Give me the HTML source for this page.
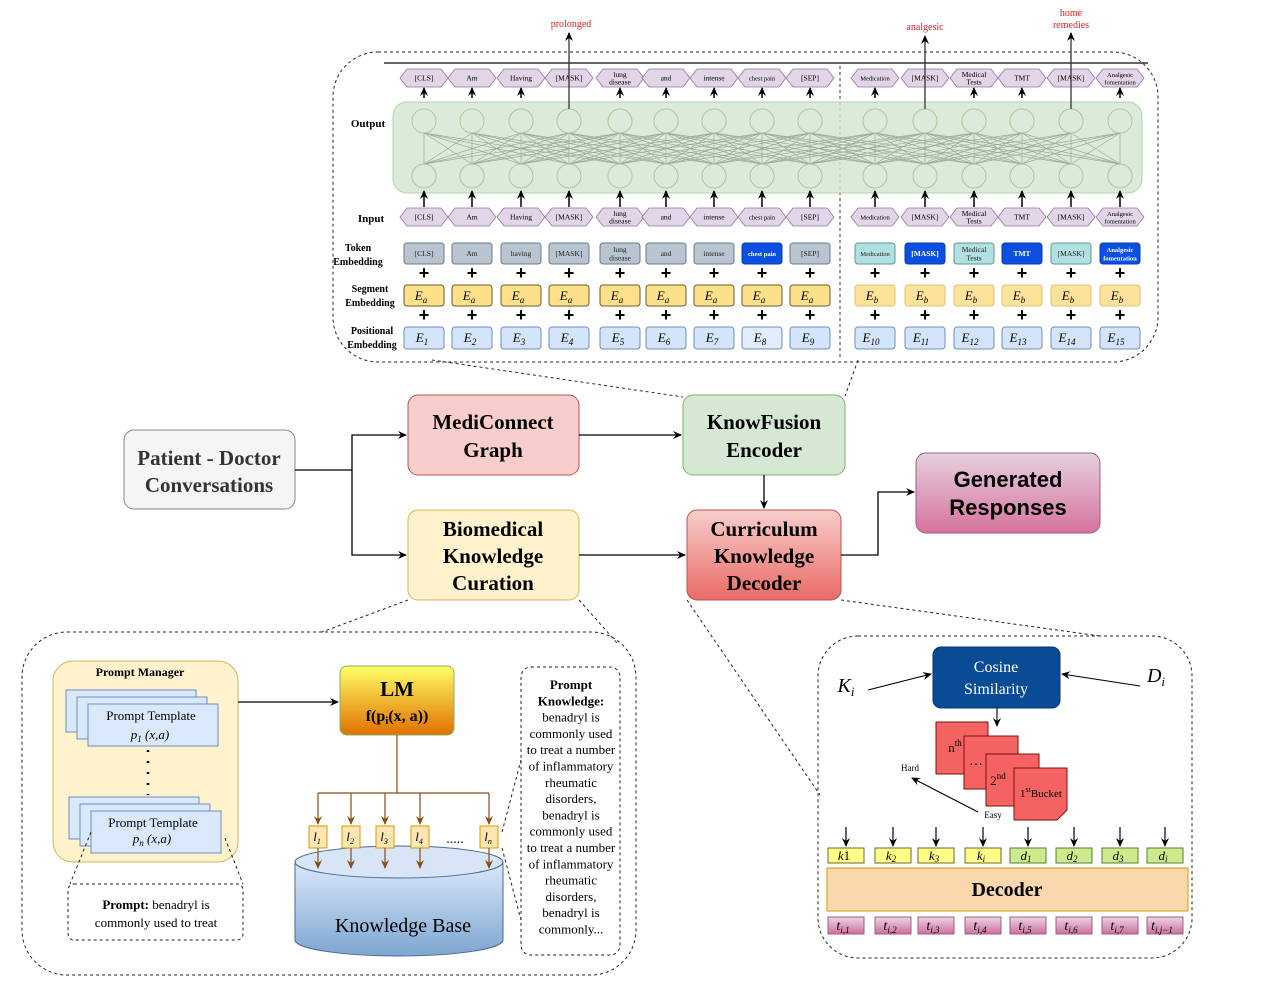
<!DOCTYPE html>
<html><head><meta charset="utf-8"><style>
html,body{margin:0;padding:0;background:#fff}
svg{display:block}
text{font-family:"Liberation Serif",serif}
</style></head><body>
<svg id="s" width="1280" height="985" viewBox="0 0 1280 985" xmlns="http://www.w3.org/2000/svg">
<defs>
<marker id="a" markerWidth="10" markerHeight="10" refX="8" refY="5" orient="auto" markerUnits="userSpaceOnUse"><path d="M0,1 L9,5 L0,9 L3,5 z" fill="#000"/></marker>
<marker id="ab" markerWidth="10" markerHeight="10" refX="8" refY="5" orient="auto" markerUnits="userSpaceOnUse"><path d="M0,1 L9,5 L0,9 L3,5 z" fill="#8b4a12"/></marker>
<linearGradient id="gRed" x1="0" y1="0" x2="0" y2="1"><stop offset="0" stop-color="#f8cecc"/><stop offset="1" stop-color="#ea6b66"/></linearGradient>
<linearGradient id="gPink" x1="0" y1="0" x2="0" y2="1"><stop offset="0" stop-color="#e6d0de"/><stop offset="1" stop-color="#d5739d"/></linearGradient>
<linearGradient id="gLM" x1="0" y1="0" x2="0" y2="1"><stop offset="0" stop-color="#ffff66"/><stop offset="1" stop-color="#e07000"/></linearGradient>
<linearGradient id="gKB" x1="0" y1="0" x2="0" y2="1"><stop offset="0" stop-color="#dae8fc"/><stop offset="1" stop-color="#7ea6d0"/></linearGradient>
<linearGradient id="gT" x1="0" y1="0" x2="0" y2="1"><stop offset="0" stop-color="#ecd5e4"/><stop offset="1" stop-color="#cd6ea0"/></linearGradient>
</defs>

<rect x="333" y="52" width="825" height="310" rx="45" fill="none" stroke="#222" stroke-dasharray="3,3"/>
<line x1="384" y1="63" x2="1148" y2="63" stroke="#333" stroke-width="1.5"/>
<line x1="840" y1="66" x2="840" y2="358" stroke="#333" stroke-dasharray="3,3"/>
<rect x="393" y="102" width="749" height="91" rx="14" fill="#d5e8d4" stroke="#a9c89f" opacity="0.85"/>
<g id="net" stroke="#9aab96" stroke-width="0.7" fill="none"></g>
<g id="topg"></g>
<text x="368" y="127" font-size="11" font-weight="bold" text-anchor="middle">Output</text>
<text x="371" y="222" font-size="11" font-weight="bold" text-anchor="middle">Input</text>
<text x="358" y="251" font-size="10" font-weight="bold" text-anchor="middle">Token</text>
<text x="358" y="265" font-size="10" font-weight="bold" text-anchor="middle">Embedding</text>
<text x="370" y="292" font-size="10" font-weight="bold" text-anchor="middle">Segment</text>
<text x="370" y="306" font-size="10" font-weight="bold" text-anchor="middle">Embedding</text>
<text x="372" y="334" font-size="10" font-weight="bold" text-anchor="middle">Positional</text>
<text x="372" y="348" font-size="10" font-weight="bold" text-anchor="middle">Embedding</text>
<text x="571" y="27" font-size="10" fill="#e02020" text-anchor="middle">prolonged</text>
<text x="925" y="30" font-size="10" fill="#e02020" text-anchor="middle">analgesic</text>
<text x="1071" y="16" font-size="10" fill="#e02020" text-anchor="middle">home</text>
<text x="1071" y="28" font-size="10" fill="#e02020" text-anchor="middle">remedies</text>

<g stroke="#222" stroke-dasharray="3,3" fill="none">
<line x1="432" y1="360" x2="683" y2="397"/>
<line x1="858" y1="360" x2="845" y2="396"/>
<line x1="408" y1="600" x2="322" y2="632"/>
<line x1="579" y1="600" x2="618" y2="644"/>
<line x1="687" y1="600" x2="820" y2="795"/>
<line x1="841" y1="600" x2="1100" y2="636"/>
</g>

<rect x="124" y="430" width="171" height="79" rx="10" fill="#f5f5f5" stroke="#888"/>
<text x="209" y="465" font-size="21" font-weight="bold" text-anchor="middle" fill="#333">Patient - Doctor</text>
<text x="209" y="492" font-size="21" font-weight="bold" text-anchor="middle" fill="#333">Conversations</text>
<rect x="408" y="395" width="171" height="80" rx="10" fill="#f8cecc" stroke="#b85450"/>
<text x="493" y="429" font-size="21" font-weight="bold" text-anchor="middle">MediConnect</text>
<text x="493" y="457" font-size="21" font-weight="bold" text-anchor="middle">Graph</text>
<rect x="683" y="395" width="162" height="80" rx="10" fill="#d5e8d4" stroke="#82b366"/>
<text x="764" y="429" font-size="21" font-weight="bold" text-anchor="middle">KnowFusion</text>
<text x="764" y="457" font-size="21" font-weight="bold" text-anchor="middle">Encoder</text>
<rect x="408" y="510" width="171" height="90" rx="10" fill="#fff2cc" stroke="#d6b656"/>
<text x="493" y="536" font-size="21" font-weight="bold" text-anchor="middle">Biomedical</text>
<text x="493" y="563" font-size="21" font-weight="bold" text-anchor="middle">Knowledge</text>
<text x="493" y="590" font-size="21" font-weight="bold" text-anchor="middle">Curation</text>
<rect x="687" y="510" width="154" height="90" rx="10" fill="url(#gRed)" stroke="#b85450"/>
<text x="764" y="536" font-size="21" font-weight="bold" text-anchor="middle">Curriculum</text>
<text x="764" y="563" font-size="21" font-weight="bold" text-anchor="middle">Knowledge</text>
<text x="764" y="590" font-size="21" font-weight="bold" text-anchor="middle">Decoder</text>
<rect x="916" y="453" width="184" height="80" rx="10" fill="url(#gPink)" stroke="#996185"/>
<text x="1008" y="487" font-size="22" font-weight="bold" text-anchor="middle" style="font-family:'Liberation Sans',sans-serif">Generated</text>
<text x="1008" y="515" font-size="22" font-weight="bold" text-anchor="middle" style="font-family:'Liberation Sans',sans-serif">Responses</text>
<g stroke="#000" stroke-width="1.3" fill="none">
<path d="M295,470 H352 V435 H406" marker-end="url(#a)"/>
<path d="M352,470 V555 H406" marker-end="url(#a)"/>
<path d="M579,435 H681" marker-end="url(#a)"/>
<path d="M764,475 V508" marker-end="url(#a)"/>
<path d="M579,555 H685" marker-end="url(#a)"/>
<path d="M841,555 H878 V492 H914" marker-end="url(#a)"/>
</g>

<rect x="22" y="632" width="614" height="343" rx="45" fill="none" stroke="#222" stroke-dasharray="3,3"/>
<rect x="53" y="661" width="185" height="201" rx="20" fill="#fff2cc" stroke="#d6b656"/>
<text x="140" y="676" font-size="12" font-weight="bold" text-anchor="middle">Prompt Manager</text>
<g fill="#dae8fc" stroke="#6c8ebf">
<rect x="66" y="690" width="130" height="42"/><rect x="77" y="697" width="130" height="42"/><rect x="88" y="704" width="130" height="42"/>
<rect x="69" y="797" width="130" height="42"/><rect x="80" y="804" width="130" height="42"/><rect x="91" y="811" width="130" height="42"/>
</g>
<text x="151" y="720" font-size="13" text-anchor="middle">Prompt Template</text>
<text x="150" y="739" font-size="13" text-anchor="middle" font-style="italic">p<tspan font-size="9" dy="3">1</tspan><tspan dy="-3"> (x,a)</tspan></text>
<text x="153" y="827" font-size="13" text-anchor="middle">Prompt Template</text>
<text x="152" y="843" font-size="13" text-anchor="middle" font-style="italic">p<tspan font-size="9" dy="3">n</tspan><tspan dy="-3"> (x,a)</tspan></text>
<line x1="148" y1="750" x2="148" y2="795" stroke="#000" stroke-width="2.5" stroke-dasharray="2,9"/>
<path d="M238,702 H338" stroke="#000" stroke-width="1.2" marker-end="url(#a)"/>
<rect x="340" y="666" width="114" height="69" rx="7" fill="url(#gLM)" stroke="#82b366"/>
<text x="397" y="696" font-size="21" font-weight="bold" text-anchor="middle">LM</text>
<text x="397" y="721" font-size="16" font-weight="bold" text-anchor="middle">f(p<tspan font-size="11" dy="3">i</tspan><tspan dy="-3">(x, a))</tspan></text>
<g stroke="#8b4a12" stroke-width="1.2" fill="none">
<path d="M397,735 V793"/><path d="M318,793 H489"/>
</g>
<path d="M295,862 V940 A104,16 0 0 0 503,940 V862" fill="url(#gKB)" stroke="#4a6a90"/>
<ellipse cx="399" cy="862" rx="104" ry="16" fill="#d8e5f7" stroke="#4a6a90"/>
<text x="403" y="932" font-size="20" text-anchor="middle">Knowledge Base</text>
<text x="455" y="843" font-size="14" text-anchor="middle">.....</text>
<g id="ls"></g>
<rect x="521" y="667" width="99" height="288" rx="10" fill="#fff" stroke="#222" stroke-dasharray="3,3"/>
<g font-size="13" text-anchor="middle" id="pk"></g>
<rect x="68" y="884" width="175" height="56" rx="6" fill="#fff" stroke="#222" stroke-dasharray="3,3"/>
<text x="156" y="909" font-size="13" text-anchor="middle"><tspan font-weight="bold">Prompt:</tspan> benadryl is</text>
<text x="156" y="927" font-size="13" text-anchor="middle">commonly used to treat</text>
<g stroke="#222" stroke-dasharray="3,3"><line x1="91" y1="832" x2="70" y2="884"/><line x1="225" y1="838" x2="243" y2="884"/>
<line x1="502" y1="832" x2="521" y2="760"/><line x1="502" y1="848" x2="521" y2="920"/></g>

<rect x="818" y="636" width="374" height="322" rx="40" fill="none" stroke="#222" stroke-dasharray="3,3"/>
<rect x="933" y="647" width="127" height="61" rx="8" fill="#0a4b96" stroke="#063570"/>
<text x="996" y="672" font-size="16" fill="#fff" text-anchor="middle">Cosine</text>
<text x="996" y="694" font-size="16" fill="#fff" text-anchor="middle">Similarity</text>
<text x="846" y="692" font-size="20" font-style="italic" text-anchor="middle">K<tspan font-size="13" dy="4">i</tspan></text>
<text x="1156" y="682" font-size="20" font-style="italic" text-anchor="middle">D<tspan font-size="13" dy="4">i</tspan></text>
<g stroke="#000" stroke-width="1.1" fill="none">
<path d="M868,690 L931,674" marker-end="url(#a)"/>
<path d="M1140,686 L1062,674" marker-end="url(#a)"/>
<path d="M997,708 V726" marker-end="url(#a)"/>
<path d="M978,812 L912,778" marker-end="url(#a)"/>
</g>
<g fill="#f56262" stroke="#7a1010">
<rect x="936" y="722" width="52" height="52"/>
<rect x="964" y="736" width="54" height="53"/>
<rect x="986" y="754" width="53" height="52"/>
<path d="M1014,768 H1067 V810 L1057,820 H1014 Z"/>
</g>
<text x="955" y="752" font-size="13" text-anchor="middle">n<tspan font-size="9" dy="-6">th</tspan></text>
<text x="976" y="765" font-size="14" text-anchor="middle">…</text>
<text x="998" y="785" font-size="13" text-anchor="middle">2<tspan font-size="9" dy="-6">nd</tspan></text>
<text x="1041" y="797" font-size="11" text-anchor="middle">1<tspan font-size="8" dy="-5">st</tspan><tspan dy="5">Bucket</tspan></text>
<text x="910" y="771" font-size="9" text-anchor="middle">Hard</text>
<text x="993" y="818" font-size="9" text-anchor="middle">Easy</text>
<rect x="827" y="868" width="361" height="43" fill="#fad7ac" stroke="#d79b00"/>
<text x="1007" y="896" font-size="20" font-weight="bold" text-anchor="middle">Decoder</text>
<g id="dec"></g>
</svg>
<script>
(function(){
var NS="http://www.w3.org/2000/svg";
function el(p,t,a,tx){var e=document.createElementNS(NS,t);for(var k in a)e.setAttribute(k,a[k]);if(tx!=null)e.textContent=tx;p.appendChild(e);return e;}
var tg=document.getElementById('topg'),net=document.getElementById('net');
var xs=[424,472,521,569,620,666,714,762,810,875,925,974,1022,1071,1120];
var outT=["[CLS]","Am","Having","[MASK]","lung|disease","and","intense","chest pain","[SEP]","Medication","[MASK]","Medical|Tests","TMT","[MASK]","Analgesic|fomentation"];
var tokT=["[CLS]","Am","having","[MASK]","lung|disease","and","intense","chest pain","[SEP]","Medication","[MASK]","Medical|Tests","TMT","[MASK]","Analgesic|fomentation"];
var tokF=["#b8c4d0","#b8c4d0","#b8c4d0","#b8c4d0","#b8c4d0","#b8c4d0","#b8c4d0","#0a4fe0","#b8c4d0","#b2e0e0","#0a4fe0","#b2e0e0","#0a4fe0","#b2e0e0","#0a4fe0"];
var masks=[3,10,13], tips={3:33,10:36,13:33};
for(var i=0;i<15;i++)for(var j=0;j<15;j++){ if(Math.abs(i-j)<=4) el(net,'line',{x1:xs[i],y1:133,x2:xs[j],y2:164});}
function fsz(s){return s.length>10?5.5:(s.length>8?6.5:7.5);}
function hex(cx,cy,t){var w=24,h=9;el(tg,'path',{d:"M"+(cx-w)+","+cy+" L"+(cx-w+7)+","+(cy-h)+" L"+(cx+w-7)+","+(cy-h)+" L"+(cx+w)+","+cy+" L"+(cx+w-7)+","+(cy+h)+" L"+(cx-w+7)+","+(cy+h)+"Z",fill:"#e1d5e7",stroke:"#9673a6","stroke-width":0.8});
 var p=t.split('|');var fs=fsz(p[0]);
 if(p.length==1)el(tg,'text',{x:cx,y:cy+2.5,"font-size":fs,"text-anchor":"middle"},p[0]);
 else{el(tg,'text',{x:cx,y:cy-1,"font-size":fs,"text-anchor":"middle"},p[0]);el(tg,'text',{x:cx,y:cy+6.5,"font-size":fs,"text-anchor":"middle"},p[1]);}}
for(var i=0;i<15;i++){var x=xs[i];
 el(tg,'circle',{cx:x,cy:121,r:12,fill:"none",stroke:"#a9c89f"});
 el(tg,'circle',{cx:x,cy:176,r:12,fill:"none",stroke:"#a9c89f"});
 hex(x,78,outT[i]);hex(x,217,outT[i]);
 if(masks.indexOf(i)>=0){el(tg,'line',{x1:x,y1:109,x2:x,y2:tips[i],stroke:"#333","stroke-width":1.3,"marker-end":"url(#a)"});}
 else el(tg,'line',{x1:x,y1:98,x2:x,y2:88,stroke:"#000","stroke-width":1.5,"marker-end":"url(#a)"});
 el(tg,'line',{x1:x,y1:207,x2:x,y2:191,stroke:"#000","stroke-width":1.5,"marker-end":"url(#a)"});
 var dark=tokF[i]=="#0a4fe0";
 el(tg,'rect',{x:x-20,y:243,width:40,height:21,rx:3,fill:tokF[i],stroke:dark?"#0a3ab0":(i>8?"#5a9a9a":"#6a7a8a")});
 var p=tokT[i].split('|');var fs=fsz(p[0]);
 function at(y){var o={x:x,y:y,"font-size":fs,"text-anchor":"middle",fill:dark?"#fff":"#222"};if(dark)o["font-weight"]="bold";return o;}
 if(p.length==1){el(tg,'text',at(256),p[0]);}else{el(tg,'text',at(252),p[0]);el(tg,'text',at(260.5),p[1]);}
 el(tg,'text',{x:x,y:279,"font-size":18,"font-weight":"bold","text-anchor":"middle",style:"font-family:'Liberation Sans',sans-serif"},"+");
 el(tg,'rect',{x:x-20,y:285,width:40,height:21,rx:3,fill:i>8?"#fde39a":"#ffe08a",stroke:i>8?"#e0c070":"#6a5a2a"});
 var t=el(tg,'text',{x:x-3,y:300,"font-size":13,"font-style":"italic","text-anchor":"middle"},"E");el(t,'tspan',{"font-size":9,dy:3},i>8?"b":"a");
 el(tg,'text',{x:x,y:321,"font-size":18,"font-weight":"bold","text-anchor":"middle",style:"font-family:'Liberation Sans',sans-serif"},"+");
 el(tg,'rect',{x:x-20,y:327,width:40,height:22,rx:3,fill:i==7?"#e2ecfb":"#d4e4fa",stroke:"#6c8ebf"});
 var t2=el(tg,'text',{x:x-(i>8?4:2),y:342,"font-size":13,"font-style":"italic","text-anchor":"middle"},"E");el(t2,'tspan',{"font-size":9,dy:3},String(i+1));
}
var ls=document.getElementById('ls');var lx=[318,351,385,420,489],ln=["1","2","3","4","n"];
for(var i=0;i<5;i++){var x=lx[i];
 el(ls,'line',{x1:x,y1:793,x2:x,y2:824,stroke:"#8b4a12","stroke-width":1.2,"marker-end":"url(#ab)"});
 el(ls,'rect',{x:x-9,y:826,width:18,height:22,fill:"#ffe6b3",stroke:"#d79b00"});
 var t=el(ls,'text',{x:x-1,y:841,"font-size":13,"font-style":"italic","text-anchor":"middle"},"l");el(t,'tspan',{"font-size":8,dy:3},ln[i]);
 el(ls,'line',{x1:x,y1:848,x2:x,y2:868,stroke:"#8b4a12","stroke-width":1.2,"marker-end":"url(#ab)"});}
var pk=document.getElementById('pk');
var lines=["Prompt","Knowledge:","benadryl is","commonly used","to treat a number","of inflammatory","rheumatic","disorders,","benadryl is","commonly used","to treat a number","of inflammatory","rheumatic","disorders,","benadryl is","commonly..."];
for(var i=0;i<lines.length;i++){var a={x:571,y:689+i*16.3};if(i<2)a["font-weight"]="bold";el(pk,'text',a,lines[i]);}
var dec=document.getElementById('dec');var dx=[846,893,936,983,1028,1074,1120,1165];
var kl=[["k","1",0],["k","2",1],["k","3",1],["k","i",1],["d","1",1],["d","2",1],["d","3",1],["d","i",1]];
var tl=["i,1","i,2","i,3","i,4","i,5","i,6","i,7","i,j−1"];
for(var i=0;i<8;i++){var x=dx[i];
 el(dec,'line',{x1:x,y1:827,x2:x,y2:846,stroke:"#000","stroke-width":1.2,"marker-end":"url(#a)"});
 el(dec,'rect',{x:x-18,y:848,width:36,height:15,fill:i<4?"#ffff88":"#cdeb8b",stroke:i<4?"#6a6a30":"#5a7a3a"});
 var t=el(dec,'text',{x:x-2,y:860,"font-size":13,"font-style":"italic","text-anchor":"middle"},kl[i][0]);
 if(kl[i][2])el(t,'tspan',{"font-size":9,dy:2},kl[i][1]);else el(t,'tspan',{"font-style":"normal"},kl[i][1]);
 el(dec,'rect',{x:x-18,y:917,width:36,height:17,fill:"url(#gT)",stroke:"#996185"});
 var t2=el(dec,'text',{x:x-3,y:930,"font-size":14,"font-style":"italic","text-anchor":"middle"},"t");el(t2,'tspan',{"font-size":9,dy:3},tl[i]);
}
})();
</script>
</body></html>
